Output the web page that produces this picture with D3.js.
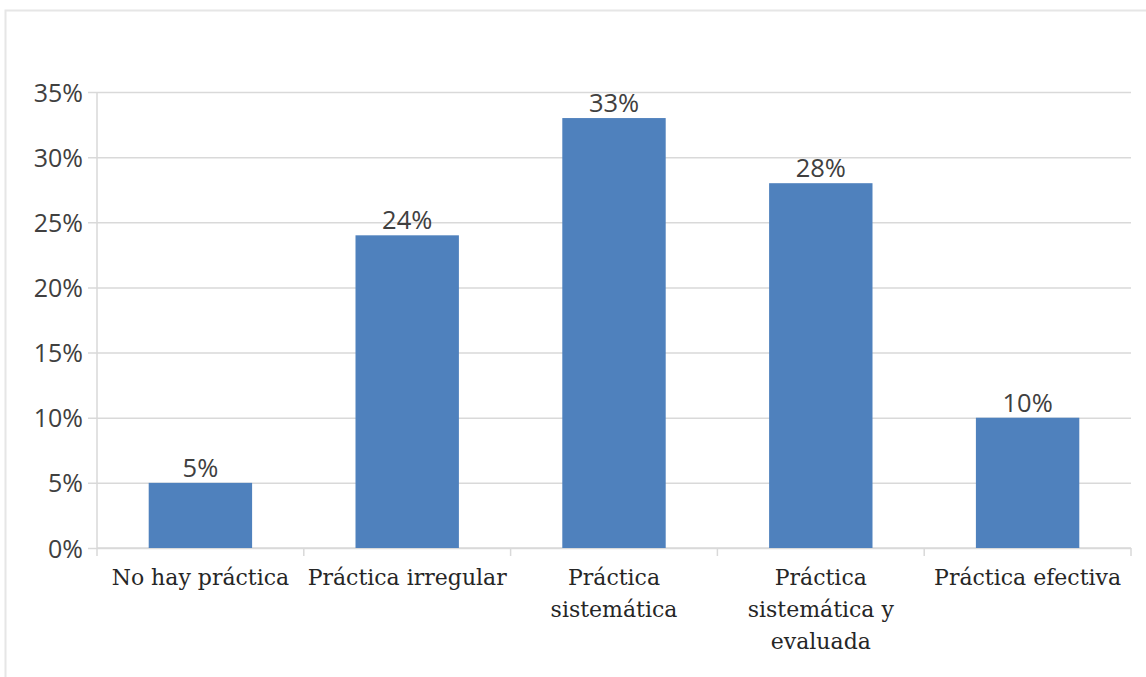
<!DOCTYPE html>
<html>
<head>
<meta charset="utf-8">
<script src="https://cdn.jsdelivr.net/npm/d3@7"></script>
<style>
  body { margin: 0; background: #fff; }
  .tick text { fill: #404040; }
</style>
</head>
<body>
<div id="chart"></div>
<script>
"use strict";

// categories (x labels split into lines) and values
const categories = [
    ["No hay práctica"],
    ["Práctica irregular"],
    ["Práctica", "sistemática"],
    ["Práctica", "sistemática y", "evaluada"],
    ["Práctica efectiva"]
];
const values = [0.05, 0.24, 0.33, 0.28, 0.10];
const yTicks = [0, 0.05, 0.10, 0.15, 0.20, 0.25, 0.30, 0.35];

const width = 1146, height = 677;
const margin = { top: 92, right: 15, bottom: 129, left: 97 };
const innerW = width - margin.left - margin.right;
const innerH = height - margin.top - margin.bottom;

const svg = d3.select("#chart").append("svg")
    .attr("width", width)
    .attr("height", height);

// chart frame (only the top and left edges are visible)
svg.append("rect")
    .attr("x", 5.5).attr("y", 10.5)
    .attr("width", width + 10).attr("height", height + 10)
    .attr("fill", "none")
    .attr("stroke", "#e6e6e6")
    .attr("stroke-width", 2);

const g = svg.append("g")
    .attr("transform", `translate(${margin.left},${margin.top})`);

const x = d3.scaleBand()
    .domain(categories.map((_, i) => i))
    .range([0, innerW])
    .paddingInner(0.5)
    .paddingOuter(0.25);

const y = d3.scaleLinear()
    .domain([0, 0.35])
    .range([innerH, 0]);

// gridlines + y labels
const yAxis = g.append("g")
    .call(d3.axisLeft(y)
        .tickValues(yTicks)
        .tickFormat(d3.format(".0%"))
        .tickSize(-innerW - 9)
        .tickPadding(5))
    .attr("transform", "translate(-9,0)");
yAxis.select(".domain").remove();
yAxis.selectAll(".tick line")
    .attr("stroke", "#d9d9d9")
    .attr("stroke-width", 1.5);
yAxis.selectAll(".tick text")
    .attr("font-family", "Open Sans")
    .attr("font-size", 25)
    .attr("dy", "0.36em");

// vertical axis line
g.append("line")
    .attr("x1", 0).attr("x2", 0)
    .attr("y1", 0).attr("y2", innerH)
    .attr("stroke", "#d9d9d9")
    .attr("stroke-width", 1.5);

// category axis with tick marks between bands
const step = x.step();
const bounds = d3.range(categories.length + 1).map(i => i * step);
g.selectAll("line.cat-tick")
    .data(bounds)
    .enter()
    .append("line")
    .classed("cat-tick", true)
    .attr("x1", d => d).attr("x2", d => d)
    .attr("y1", innerH).attr("y2", innerH + 8)
    .attr("stroke", "#d9d9d9")
    .attr("stroke-width", 1.5);
g.append("line")
    .attr("x1", 0).attr("x2", innerW)
    .attr("y1", innerH).attr("y2", innerH)
    .attr("stroke", "#d9d9d9")
    .attr("stroke-width", 1.5);

// bars
g.selectAll("rect.bar")
    .data(values)
    .enter()
    .append("rect")
    .classed("bar", true)
    .attr("x", (_, i) => x(i))
    .attr("y", d => y(d))
    .attr("width", x.bandwidth())
    .attr("height", d => innerH - y(d))
    .attr("fill", "#4f81bd");

// value labels
g.selectAll("text.value")
    .data(values)
    .enter()
    .append("text")
    .classed("value", true)
    .attr("x", (_, i) => x(i) + x.bandwidth() / 2)
    .attr("y", d => y(d) - 6)
    .attr("text-anchor", "middle")
    .attr("font-family", "Open Sans")
    .attr("font-size", 25.5)
    .attr("fill", "#404040")
    .text(d3.format(".0%"));

// category labels
const labels = g.selectAll("text.cat")
    .data(categories)
    .enter()
    .append("text")
    .classed("cat", true)
    .attr("text-anchor", "middle")
    .attr("font-family", "DejaVu Serif")
    .attr("font-size", 22)
    .attr("fill", "#262626");
labels.selectAll("tspan")
    .data((d, i) => d.map(line => ({ line, i })))
    .enter()
    .append("tspan")
    .attr("x", d => x(d.i) + x.bandwidth() / 2)
    .attr("y", (_, j) => innerH + 37 + j * 32)
    .text(d => d.line);
</script>
</body>
</html>
